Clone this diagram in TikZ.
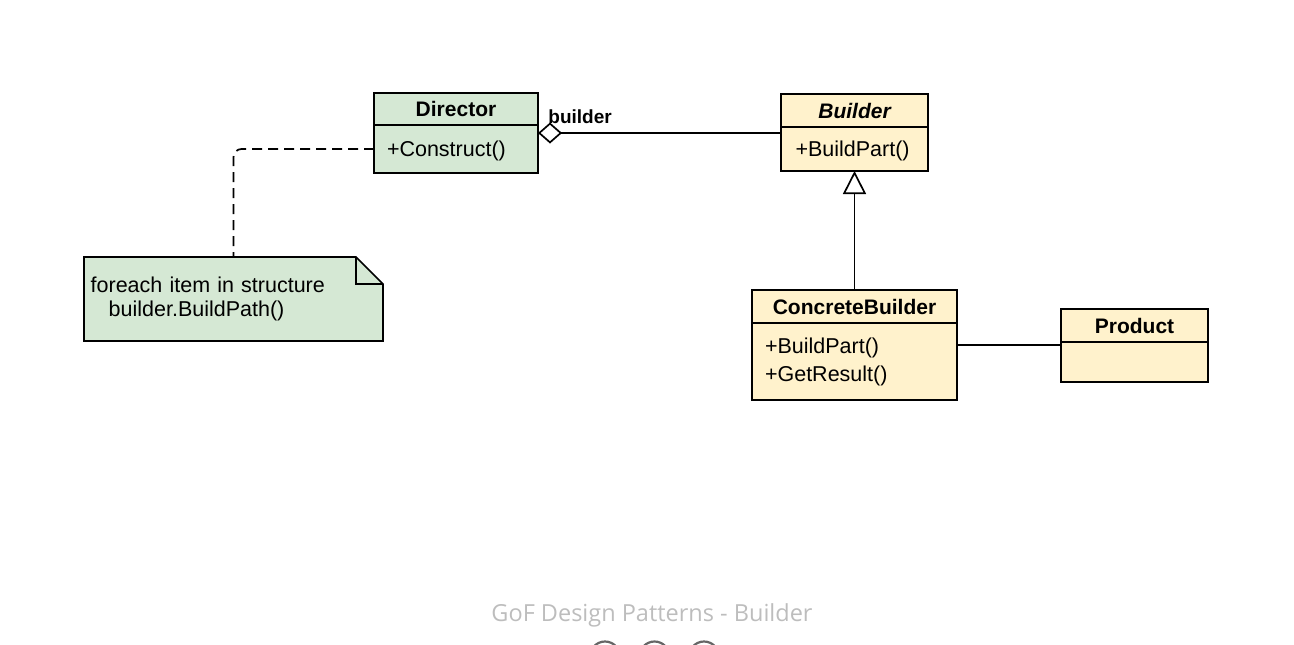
\documentclass[tikz,border=0pt]{standalone}
\usepackage{fontspec}
\setmainfont{Liberation Sans}
\setsansfont{Liberation Sans}
\newfontfamily\captionfont{Open Sans}
\usetikzlibrary{arrows.meta,positioning,backgrounds}

\definecolor{dirgreen}{HTML}{D5E8D4}
\definecolor{bldyellow}{HTML}{FFF2CC}
\definecolor{captiongray}{HTML}{BDBDBD}
\newcommand{\umlops}{\fontsize{10.75pt}{14pt}\selectfont}
\newcommand{\umltitle}{\fontsize{10.5pt}{12pt}\selectfont\bfseries}
\newcommand{\umlnote}{\fontsize{10.75pt}{11.65pt}\selectfont}

\tikzset{
  classhead/.style={draw, fill=#1, line width=0.85pt, inner sep=0pt,
    outer sep=0pt, font=\umltitle},
  classops/.style={draw, fill=#1, line width=0.85pt, inner xsep=6.5pt,
    inner ysep=0pt, outer sep=0pt, align=left, font=\umlops},
  notebox/.style={inner xsep=3.35pt, inner ysep=0pt, outer sep=0pt,
    minimum width=149.5pt, minimum height=42pt, text width=142.8pt,
    align=left, font=\umlnote},
  rolelabel/.style={inner sep=0pt, font=\fontsize{9.5pt}{11pt}\selectfont\bfseries},
  aggregation/.style={line width=0.85pt, {Diamond[open,length=12pt,width=10.5pt]}-},
  inherit/.style={line width=0.85pt, -{Triangle[open,length=11.5pt,width=11.5pt]}},
  assoc/.style={line width=0.85pt},
  notelink/.style={line width=0.85pt, dash pattern=on 5pt off 3pt, rounded corners=4pt},
  captiontext/.style={inner sep=0pt, text=captiongray,
    font=\captionfont\fontsize{11.75pt}{14pt}\selectfont},
  pagerdot/.style={line width=1.1pt, draw=black!60}
}

\begin{document}
\begin{tikzpicture}[x={(0.5pt,0)}, y={(0,-0.5pt)}]
    \useasboundingbox (0,0) rectangle (1294,644);
    % Director
    \node[classhead=dirgreen, minimum width=82pt, minimum height=16pt]
        (dirhead) at (456,109) {Director};
    \node[classops=dirgreen, text width=69pt, text depth=0pt, minimum height=24pt,
        below=0pt of dirhead] (dirops) {+Construct()};
    % Builder
    \node[classhead=bldyellow, minimum width=73.5pt, minimum height=16.5pt]
        (bldhead) at (854.5,110.5) {\itshape Builder};
    \node[classops=bldyellow, text width=59pt, inner xsep=7.25pt, text depth=0pt,
        minimum height=22pt, below=0pt of bldhead] (bldops) {+BuildPart()};
    % ConcreteBuilder
    \node[classhead=bldyellow, minimum width=102.5pt, minimum height=16.5pt]
        (cbhead) at (854.5,306.5) {ConcreteBuilder};
    \node[classops=bldyellow, text width=89.5pt, minimum height=38.5pt,
        below=0pt of cbhead] (cbops) {+BuildPart()\\+GetResult()};
    % Product
    \node[classhead=bldyellow, minimum width=73.5pt, minimum height=16.5pt]
        (prodhead) at (1134.5,325.5) {Product};
    \node[classops=bldyellow, text width=60.5pt, minimum height=20pt,
        below=0pt of prodhead] (prodops) {};
    % the note
    \node[notebox] (note) at (233.5,299)
        {foreach item in structure\\\hspace*{9pt}builder.BuildPath()};
    \begin{scope}[on background layer]
        \filldraw[fill=dirgreen, line width=0.85pt] (note.north west)
            -- ([xshift=-13.5pt]note.north east)
            -- ([yshift=-13.5pt]note.north east)
            -- (note.south east) -- (note.south west) -- cycle;% note outline
        \draw[line width=0.85pt] ([xshift=-13.5pt]note.north east)
            |- ([yshift=-13.5pt]note.north east);% the fold
    \end{scope}
    % connectors
    \coordinate (aggr) at ([yshift=-4pt]dirops.north east);
    \draw[aggregation] (aggr) -- (aggr -| bldops.west);% director has a builder
    \node[rolelabel, anchor=base west] (role) at (548,123) {builder};
    \draw[inherit] (cbhead.north) -- (bldops.south);% generalization
    \coordinate (prodlink) at ([yshift=-1.5pt]prodops.north west);
    \draw[assoc] (prodlink -| cbops.east) -- (prodlink);% builds the product
    \draw[notelink] (dirops.west) -| (note.north);% note anchor
    % Caption
    \node[captiontext, anchor=base] (caption) at (652,621.7)
        {GoF Design Patterns - Builder};
    \begin{scope}
        \clip (0,0) rectangle (1294,644);
        \foreach \cx in {605,654.5,704}
            \draw[pagerdot] (\cx,656.5) circle (7.5pt);
    \end{scope}
\end{tikzpicture}
\end{document}
